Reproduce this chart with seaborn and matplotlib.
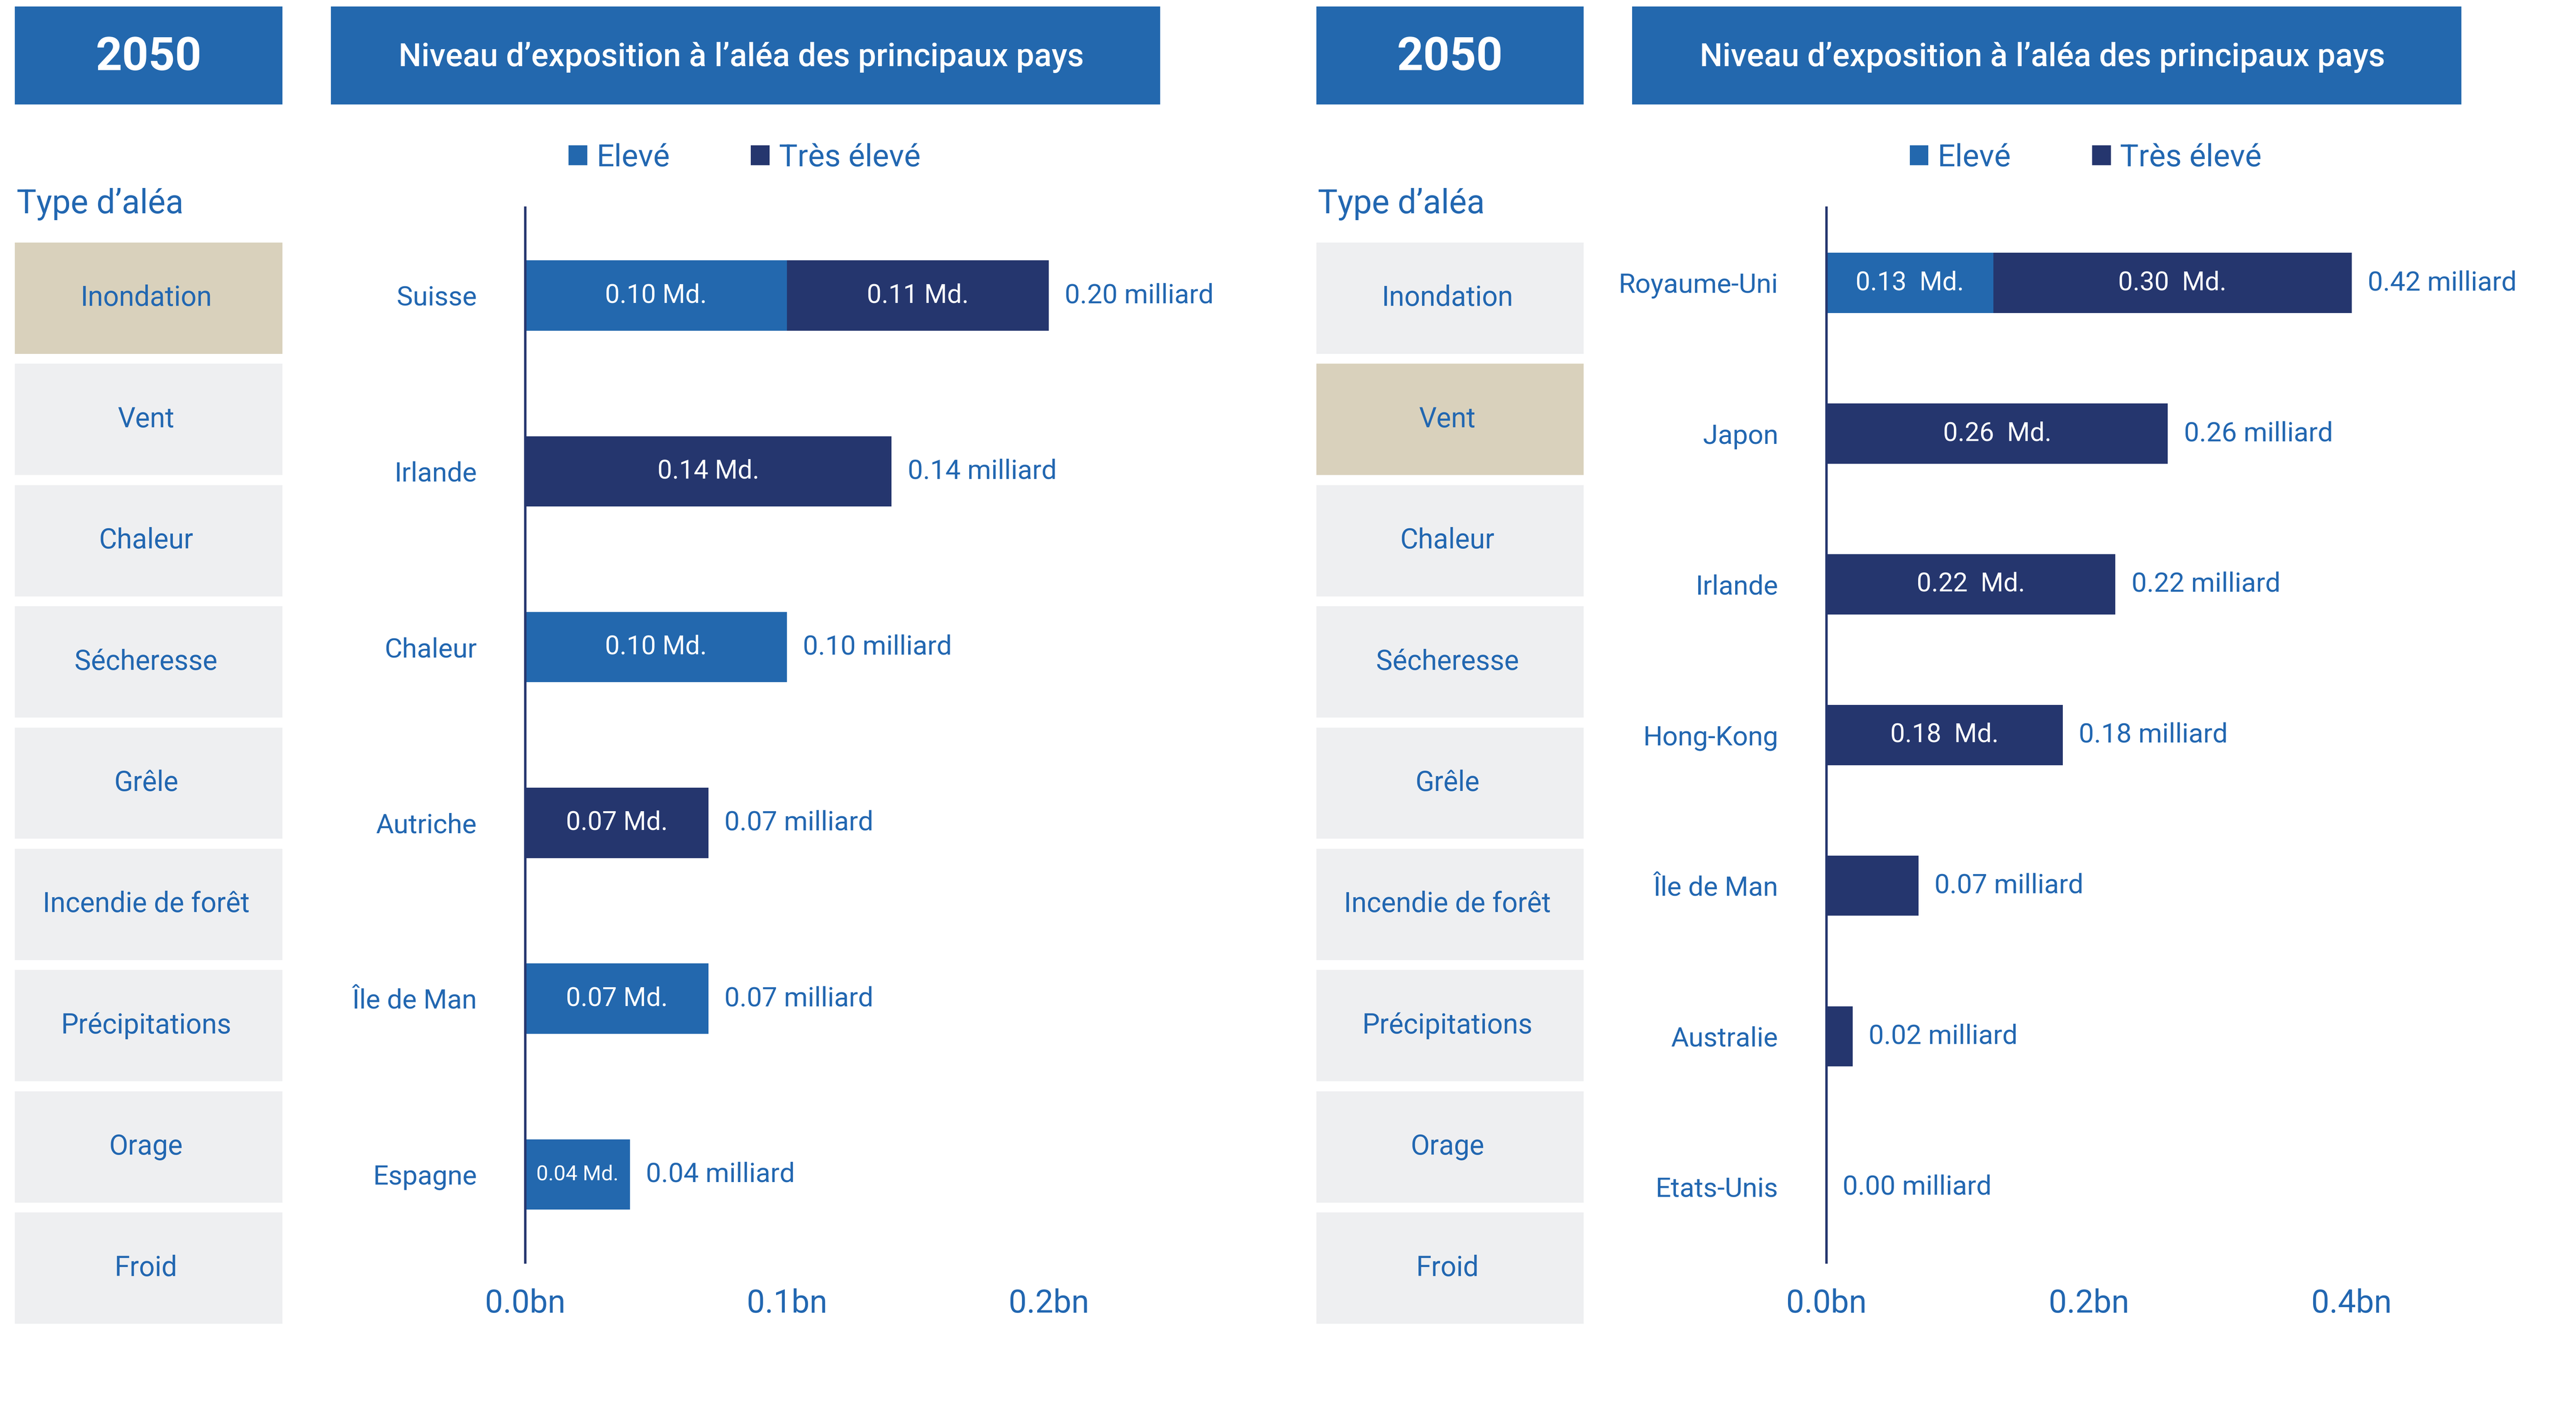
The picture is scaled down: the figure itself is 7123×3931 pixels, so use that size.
import matplotlib
matplotlib.use("Agg")
import matplotlib.pyplot as plt
from matplotlib.patches import Rectangle, Patch
import seaborn as sns

# Données du graphique
annee = "2050"
titre = "Niveau d’exposition à l’aléa des principaux pays"
series = ["Elevé", "Très élevé"]
types_alea = ["Inondation", "Vent", "Chaleur", "Sécheresse", "Grêle",
              "Incendie de forêt", "Précipitations", "Orage", "Froid"]

# Panneau gauche : Inondation
alea_g = "Inondation"
pays_g = ["Suisse", "Irlande", "Chaleur", "Autriche", "Île de Man", "Espagne"]
eleve_g = [0.10, 0.0, 0.10, 0.0, 0.07, 0.04]
tres_g = [0.105, 0.14, 0.0, 0.07, 0.0, 0.0]
lab_eleve_g = ["0.10 Md.", "", "0.10 Md.", "", "0.07 Md.", "0.04 Md."]
lab_tres_g = ["0.11 Md.", "0.14 Md.", "", "0.07 Md.", "", ""]
lab_total_g = ["0.20 milliard", "0.14 milliard", "0.10 milliard",
               "0.07 milliard", "0.07 milliard", "0.04 milliard"]
ticks_g = [0.0, 0.1, 0.2]
ticklab_g = ["0.0bn", "0.1bn", "0.2bn"]

# Panneau droit : Vent
alea_d = "Vent"
pays_d = ["Royaume-Uni", "Japon", "Irlande", "Hong-Kong", "Île de Man",
          "Australie", "Etats-Unis"]
eleve_d = [0.127, 0.0, 0.0, 0.0, 0.0, 0.0, 0.0]
tres_d = [0.296, 0.26, 0.22, 0.18, 0.07, 0.02, 0.0]
lab_eleve_d = ["0.13  Md.", "", "", "", "", "", ""]
lab_tres_d = ["0.30  Md.", "0.26  Md.", "0.22  Md.", "0.18  Md.", "", "", ""]
lab_total_d = ["0.42 milliard", "0.26 milliard", "0.22 milliard",
               "0.18 milliard", "0.07 milliard", "0.02 milliard",
               "0.00 milliard"]
ticks_d = [0.0, 0.2, 0.4]
ticklab_d = ["0.0bn", "0.2bn", "0.4bn"]

# Couleurs
BLEU = "#2368AE"
MARINE = "#25366E"
TEXTE = "#2267B1"
GRIS = "#EEEFF1"
BEIGE = "#D9D1BC"

sns.set_theme(style="white")
plt.rcParams['font.family'] = ['Roboto', 'DejaVu Sans']

W, H = 1550, 855.5


def fx(x):
    return x / W


def fy(y):
    return 1 - y / H


fig = plt.figure(figsize=(7123 / 400, 3931 / 400), dpi=400)


def panneau(dx, alea_actif, pays, eleve, tres, lab_eleve, lab_tres,
            lab_total, ticks, ticklab, leg_x, larg):
    xmax = ticks[-1]
    # boites d'en-tete
    fig.add_artist(Rectangle((fx(dx + 9), fy(63)), fx(161), 59 / H,
                             transform=fig.transFigure, color=BLEU, lw=0))
    fig.text(fx(dx + 89.5), fy(34.5), annee, ha='center', va='center',
             color='white', fontsize=23, fontweight='bold')
    fig.add_artist(Rectangle((fx(dx + 199), fy(63)), fx(499), 59 / H,
                             transform=fig.transFigure, color=BLEU, lw=0))
    fig.text(fx(dx + 446), fy(34.5), titre, ha='center', va='center',
             color='white', fontsize=16, fontweight='medium')

    # legende
    poignees = [Patch(color=BLEU, lw=0), Patch(color=MARINE, lw=0)]
    fig.legend(poignees, series, loc='center',
               bbox_to_anchor=(fx(leg_x), fy(95)), ncol=2, frameon=False,
               fontsize=15.5, labelcolor=TEXTE, handlelength=0.6,
               handleheight=0.6, handletextpad=0.3, columnspacing=2.6,
               borderpad=0, borderaxespad=0)

    fig.text(fx(dx + 10), fy(123), "Type d’aléa", va='center',
             fontsize=16.5, color=TEXTE)

    # menu des types d'aléa
    axm = fig.add_axes([fx(dx + 9), fy(797), fx(161), 651 / H])
    couleurs = [BEIGE if t == alea_actif else GRIS for t in types_alea]
    sns.barplot(x=[1] * len(types_alea), y=types_alea, hue=types_alea,
                palette=couleurs, width=67 / 73, saturation=1, legend=False,
                orient='h', linewidth=0, ax=axm)
    axm.set_xlim(0, 1)
    axm.set_ylim(len(types_alea) - 1 + 0.459, -0.459)
    axm.axis('off')
    for i, t in enumerate(types_alea):
        axm.text(0.49, i, t, ha='center', va='center', fontsize=13.8,
                 color=TEXTE)

    # barres empilées
    ax = fig.add_axes([fx(dx + 316), fy(760), fx(larg), 635 / H])
    sns.barplot(x=eleve, y=pays, color=BLEU, width=0.4, saturation=1,
                errorbar=None, orient='h', linewidth=0, ax=ax)
    sns.barplot(x=tres, y=pays, color=MARINE, width=0.4, saturation=1,
                errorbar=None, orient='h', linewidth=0, left=eleve, ax=ax)

    txt = ax.bar_label(ax.containers[0], labels=lab_eleve, label_type='center',
                       color='white', fontsize=13)
    for t, v in zip(txt, eleve):
        if v < 0.05:
            t.set_fontsize(10.5)
    ax.bar_label(ax.containers[1], labels=lab_tres, label_type='center',
                 color='white', fontsize=13)

    for i, (e, t, lab) in enumerate(zip(eleve, tres, lab_total)):
        ax.annotate(lab, xy=(min(e + t, xmax), i), xytext=(8, 0),
                    textcoords='offset points', va='center', ha='left',
                    fontsize=13.5, color=TEXTE, annotation_clip=False)

    ax.set_xlim(0, xmax)
    ax.set_ylim(len(pays) - 0.5, -0.5)
    ax.set_xticks(ticks, ticklab)
    ax.tick_params(axis='x', length=0, labelsize=16, labelcolor=TEXTE, pad=13)
    ax.tick_params(axis='y', length=0, labelsize=13.5, labelcolor=TEXTE, pad=24)
    ax.set_xlabel("")
    ax.set_ylabel("")
    ax.grid(False)
    ax.patch.set_alpha(0)
    for s in ['top', 'right', 'bottom']:
        ax.spines[s].set_visible(False)
    ax.spines['left'].set_color(MARINE)
    ax.spines['left'].set_linewidth(1.2)


panneau(0, alea_g, pays_g, eleve_g, tres_g, lab_eleve_g, lab_tres_g,
        lab_total_g, ticks_g, ticklab_g, 448, 315)
panneau(783, alea_d, pays_d, eleve_d, tres_d, lab_eleve_d, lab_tres_d,
        lab_total_d, ticks_d, ticklab_d, 1255, 316)

fig.savefig("out.png", dpi=400)
